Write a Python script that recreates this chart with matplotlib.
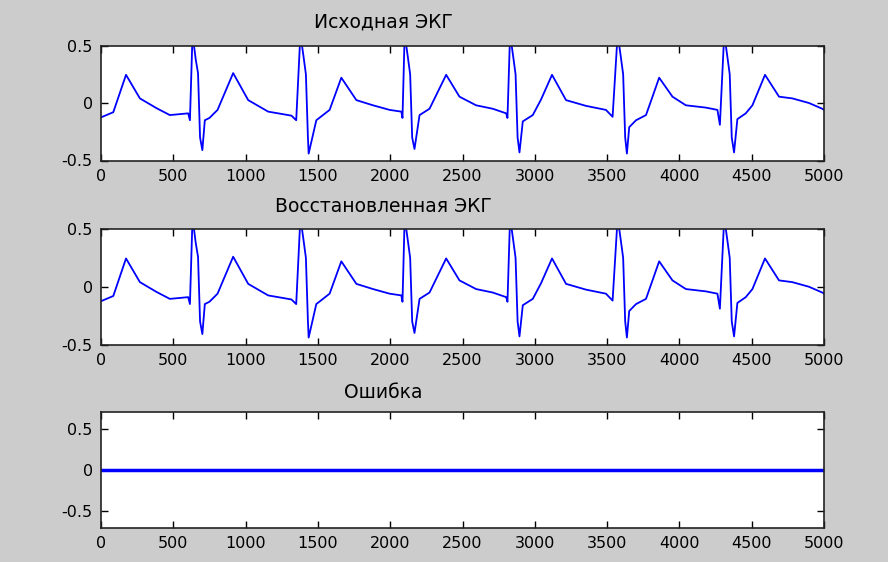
import numpy as np
import matplotlib
matplotlib.use('Agg')
import matplotlib.pyplot as plt

### ECG landmarks (sample index, amplitude)
ecg_x = [0, 85, 173, 269, 384, 476, 603, 615, 633, 655, 671, 685, 701, 718, 750, 806,
         914, 1018, 1156, 1317, 1350, 1379, 1401, 1417, 1431, 1436, 1489, 1581,
         1662, 1766, 1881, 1996, 2077, 2085, 2100, 2122, 2138, 2152, 2168, 2203, 2272,
         2387, 2479, 2594, 2709, 2802, 2811, 2829, 2851, 2867, 2881, 2894, 2917, 2986, 3043,
         3119, 3216, 3354, 3492, 3538, 3573, 3595, 3611, 3625, 3637, 3653, 3700, 3769, 3814,
         3860, 3952, 4045, 4183, 4263, 4280, 4310, 4332, 4348, 4362, 4378, 4401, 4459, 4505,
         4592, 4689, 4781, 4896, 4988, 5000]
ecg_y = [-0.125, -0.08, 0.245, 0.04, -0.045, -0.105, -0.09, -0.15, 0.6, 0.38, 0.26, -0.3, -0.41, -0.15, -0.13, -0.06,
         0.26, 0.025, -0.075, -0.11, -0.15, 0.6, 0.4, 0.25, -0.3, -0.44, -0.15, -0.06,
         0.22, 0.025, -0.02, -0.06, -0.075, -0.13, 0.6, 0.4, 0.25, -0.3, -0.40, -0.105, -0.05,
         0.245, 0.055, -0.02, -0.05, -0.09, -0.13, 0.6, 0.4, 0.25, -0.3, -0.43, -0.16, -0.105, 0.03,
         0.245, 0.025, -0.025, -0.06, -0.12, 0.6, 0.4, 0.25, -0.3, -0.44, -0.21, -0.15, -0.105, 0.055,
         0.22, 0.055, -0.02, -0.04, -0.06, -0.19, 0.6, 0.4, 0.25, -0.3, -0.43, -0.14, -0.09, -0.02,
         0.245, 0.055, 0.04, 0.0, -0.05, -0.06]

titles = ['Исходная ЭКГ', 'Восстановленная ЭКГ', 'Ошибка']
xticks = [0, 500, 1000, 1500, 2000, 2500, 3000, 3500, 4000, 4500, 5000]

x = np.array(ecg_x)
orig = np.array(ecg_y)
restored = orig.copy()
err = orig - restored

W, H = 888, 562
fig = plt.figure(figsize=(W / 100, H / 100), dpi=100, facecolor='#cccccc')
plt.rcParams['font.family'] = ['DejaVu Sans']

# axes boxes in pixels: (left, top, right, bottom)
boxes = [(101, 45.5, 824, 160.5), (101, 229, 824, 344.5), (101, 412, 824, 528)]
series = [orig, restored, err]
ylims = [(-0.5, 0.5), (-0.5, 0.5), (-0.7, 0.7)]
lws = [1.3, 1.3, 2.5]
pads = [13, 12, 10]

for box, y, yl, t, lw, pd in zip(boxes, series, ylims, titles, lws, pads):
    l, tp, r, b = box
    ax = fig.add_axes([l / W, 1 - b / H, (r - l) / W, (b - tp) / H])
    ax.plot(x, y, color='#0000ff', linewidth=lw)
    ax.set_xlim(0, 5000)
    ax.set_ylim(*yl)
    ax.set_xticks(xticks)
    ax.set_yticks([-0.5, 0, 0.5])
    ax.set_yticklabels(['-0.5', '0', '0.5'])
    ax.tick_params(direction='in', length=5, width=1, top=True, right=True,
                   labelsize=11.5, pad=6, colors='black')
    for s in ax.spines.values():
        s.set_linewidth(1.2)
        s.set_color('#222222')
    ax.set_title(t, x=0.391, fontsize=13.5, pad=pd)

plt.savefig('out.png', dpi=100, facecolor=fig.get_facecolor())
